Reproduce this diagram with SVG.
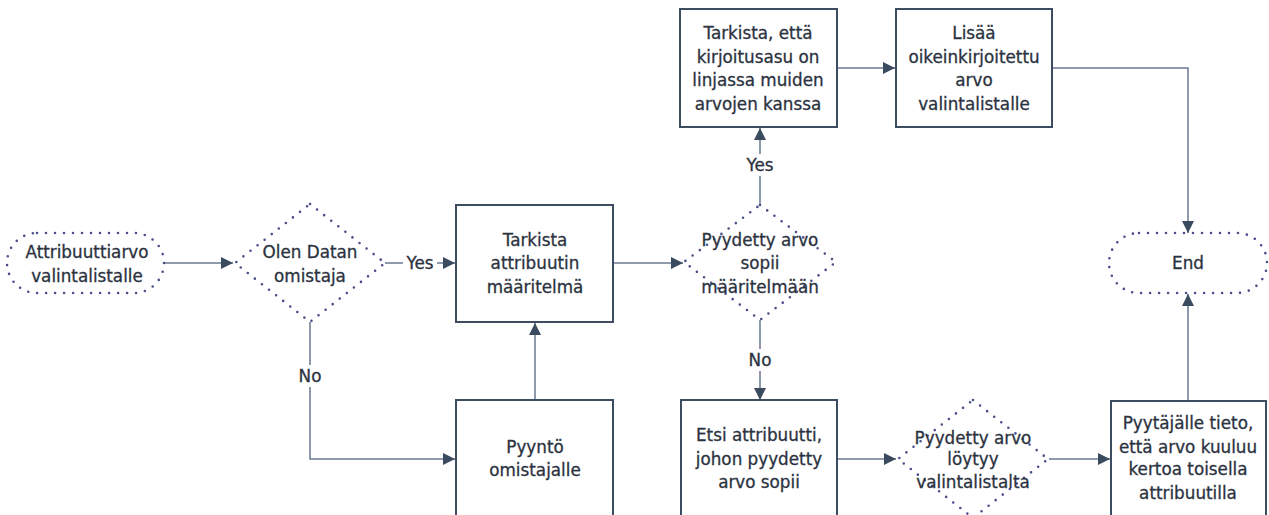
<svg xmlns="http://www.w3.org/2000/svg" width="1269" height="515" viewBox="0 0 1269 515">
<style>
.box{fill:#fff;stroke:#3d4c60;stroke-width:2}
.dot{fill:#fff;stroke:#4a4f8a;stroke-width:2.6;stroke-dasharray:0 9;stroke-linecap:round}
.t{font-family:"DejaVu Sans",sans-serif;font-size:16.8px;fill:#2b3240;stroke:#2b3240;stroke-width:0.3;text-anchor:middle;dominant-baseline:central}
.c{fill:none;stroke:#6a7890;stroke-width:1.5}
.lbl{font-family:"DejaVu Sans",sans-serif;font-size:16.8px;fill:#2b3240;stroke:#2b3240;stroke-width:0.3;text-anchor:middle;dominant-baseline:central}
</style>
<defs>
<marker id="ah" viewBox="0 0 10 10" refX="10" refY="5" markerWidth="12" markerHeight="12" markerUnits="userSpaceOnUse" orient="auto">
<path d="M0,0 L10,5 L0,10 z" fill="#3a4b60"/>
</marker>
</defs>
<rect width="1269" height="515" fill="#fff"/>
<g id="connectors">
<path class="c" d="M165,263 H233" marker-end="url(#ah)"/>
<path class="c" d="M385,263 H455" marker-end="url(#ah)"/>
<path class="c" d="M613,263 H683" marker-end="url(#ah)"/>
<path class="c" d="M760,205 V128" marker-end="url(#ah)"/>
<path class="c" d="M837,68 H895" marker-end="url(#ah)"/>
<path class="c" d="M1052,68 H1188 V233" marker-end="url(#ah)"/>
<path class="c" d="M760,320 V400" marker-end="url(#ah)"/>
<path class="c" d="M310,322 V459 H455" marker-end="url(#ah)"/>
<path class="c" d="M535,400 V323" marker-end="url(#ah)"/>
<path class="c" d="M837,459 H896" marker-end="url(#ah)"/>
<path class="c" d="M1049,459 H1110" marker-end="url(#ah)"/>
<path class="c" d="M1188,401 V294" marker-end="url(#ah)"/>
<rect x="403" y="252" width="34" height="22" fill="#fff"/>
<text class="lbl" x="420" y="263">Yes</text>
<rect x="742" y="154" width="36" height="22" fill="#fff"/>
<text class="lbl" x="760" y="165">Yes</text>
<rect x="745" y="349" width="30" height="22" fill="#fff"/>
<text class="lbl" x="760" y="360">No</text>
<rect x="295" y="365" width="30" height="22" fill="#fff"/>
<text class="lbl" x="310" y="376">No</text>
</g>
<g id="start">
<rect class="dot" x="7" y="233" width="157" height="60" rx="30" ry="30"/>
<text class="t" x="87" y="252">Attribuuttiarvo</text>
<text class="t" x="87" y="276">valintalistalle</text>
</g>
<g id="d1">
<path class="dot" d="M310,204 L385,263 L310,322 L235,263 Z"/>
<text class="t" x="310" y="252">Olen Datan</text>
<text class="t" x="310" y="276">omistaja</text>
</g>
<g id="b1">
<rect class="box" x="456" y="205" width="157" height="117"/>
<text class="t" x="535" y="240">Tarkista</text>
<text class="t" x="535" y="263">attribuutin</text>
<text class="t" x="535" y="287">määritelmä</text>
</g>
<g id="d2">
<path class="dot" d="M760,205 L836,262 L760,320 L684,262 Z"/>
<text class="t" x="760" y="240">Pyydetty arvo</text>
<text class="t" x="760" y="263">sopii</text>
<text class="t" x="760" y="287">määritelmään</text>
</g>
<g id="b2">
<rect class="box" x="680" y="9" width="157" height="118"/>
<text class="t" x="758" y="33">Tarkista, että</text>
<text class="t" x="758" y="57">kirjoitusasu on</text>
<text class="t" x="758" y="80">linjassa muiden</text>
<text class="t" x="758" y="104">arvojen kanssa</text>
</g>
<g id="b3">
<rect class="box" x="896" y="9" width="156" height="118"/>
<text class="t" x="974" y="33">Lisää</text>
<text class="t" x="974" y="57">oikeinkirjoitettu</text>
<text class="t" x="974" y="80">arvo</text>
<text class="t" x="974" y="104">valintalistalle</text>
</g>
<g id="end">
<rect class="dot" x="1109" y="233" width="158" height="60" rx="30" ry="30"/>
<text class="t" x="1188" y="263">End</text>
</g>
<g id="b4">
<rect class="box" x="456" y="400" width="157" height="118"/>
<text class="t" x="535" y="447">Pyyntö</text>
<text class="t" x="535" y="470">omistajalle</text>
</g>
<g id="b5">
<rect class="box" x="681" y="400" width="156" height="118"/>
<text class="t" x="759" y="435">Etsi attribuutti,</text>
<text class="t" x="759" y="459">johon pyydetty</text>
<text class="t" x="759" y="482">arvo sopii</text>
</g>
<g id="d3">
<path class="dot" d="M973,400 L1048,459 L973,518 L898,459 Z"/>
<text class="t" x="973" y="438">Pyydetty arvo</text>
<text class="t" x="973" y="459">löytyy</text>
<text class="t" x="973" y="482">valintalistalta</text>
</g>
<g id="b6">
<rect class="box" x="1111" y="401" width="155" height="117"/>
<text class="t" x="1188" y="423">Pyytäjälle tieto,</text>
<text class="t" x="1188" y="447">että arvo kuuluu</text>
<text class="t" x="1188" y="469">kertoa toisella</text>
<text class="t" x="1188" y="493">attribuutilla</text>
</g>
</svg>
